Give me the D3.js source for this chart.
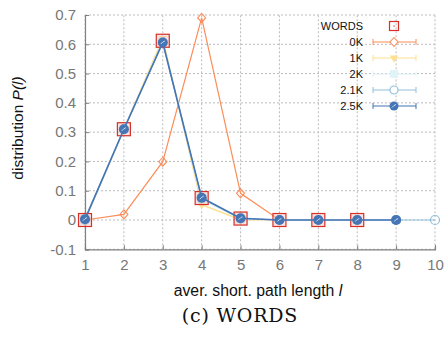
<!DOCTYPE html>
<html><head><meta charset="utf-8">
<script src="https://cdn.jsdelivr.net/npm/d3@7"></script>
<style>body{margin:0;background:#fff}svg{display:block}</style>
</head><body><svg id="c" width="445" height="339"></svg>
<script>
const xTicks = [1,2,3,4,5,6,7,8,9,10];
const yTicks = [-0.1,0,0.1,0.2,0.3,0.4,0.5,0.6,0.7];
const yTickLabels = ["-0.1","0","0.1","0.2","0.3","0.4","0.5","0.6","0.7"];
const seriesNames = ["WORDS","0K","1K","2K","2.1K","2.5K"];
const xWords = [1,2,3,4,5,6,7,8];
const yWords = [0,0.31,0.612,0.075,0.005,0,0,0];
const x0K = [1,2,3,4,5,6,7,8];
const y0K = [0,0.019,0.199,0.69,0.091,0,0,0];
const x1K = [1,2,3,4,5,6,7,8];
const y1K = [0,0.31,0.62,0.052,0.001,0,0,0];
const x2K = [1,2,3,4,5,6,7,8,9];
const y2K = [0,0.31,0.61,0.07,0.004,0,0,0,0];
const x21K = [1,2,3,4,5,6,7,8,9,10];
const y21K = [0,0.31,0.607,0.074,0.005,0,0,0,0,0];
const x25K = [1,2,3,4,5,6,7,8,9];
const y25K = [0.003,0.31,0.606,0.076,0.006,0,0,0,0];

const svg = d3.select("#c");
const x = d3.scaleLinear().domain([1,10]).range([85,435]);
const y = d3.scaleLinear().domain([-0.1,0.7]).range([249.3,15]);
const grey = "#808080";
const font = "'Liberation Sans', Arial, sans-serif";

// grid
const g = svg.append("g");
g.selectAll("line.gx").data(xTicks).join("line")
  .attr("x1",d=>x(d)).attr("x2",d=>x(d)).attr("y1",y(-0.1)).attr("y2",y(0.7))
  .attr("stroke","#bbb").attr("stroke-width",1).attr("stroke-dasharray","2,2");
g.selectAll("line.gy").data(yTicks).join("line")
  .attr("y1",d=>y(d)).attr("y2",d=>y(d)).attr("x1",x(1)).attr("x2",x(10))
  .attr("stroke","#bbb").attr("stroke-width",1).attr("stroke-dasharray","2,2");

// axes
const xa = svg.append("g").attr("transform",`translate(0,${y(-0.1)})`)
  .call(d3.axisBottom(x).tickValues(xTicks).tickSize(-4).tickPadding(10).tickFormat(d3.format("d")));
const ya = svg.append("g").attr("transform",`translate(${x(1)},0)`)
  .call(d3.axisLeft(y).tickValues(yTicks).tickSize(-4).tickPadding(9).tickFormat((d,i)=>yTickLabels[i]));
[xa,ya].forEach(a=>{
  a.select(".domain").attr("stroke",grey).attr("stroke-width",1.2);
  a.selectAll(".tick line").attr("stroke",grey);
  a.selectAll(".tick text").attr("fill","#777").attr("font-size",15).attr("font-family",font);
});

// series
const colors = {"0K":"#fc8d59","1K":"#fee090","2K":"#e0f3f8","2.1K":"#91bfdb","2.5K":"#4575b4"};
const line = d3.line().x(d=>x(d[0])).y(d=>y(d[1]));
function zip(a,b){return a.map((v,i)=>[v,b[i]]);}

function drawLine(data,color,w){
  svg.append("path").datum(data).attr("d",line).attr("fill","none")
    .attr("stroke",color).attr("stroke-width",w);
}
const d0 = zip(x0K,y0K), d1 = zip(x1K,y1K), d2 = zip(x2K,y2K), d21 = zip(x21K,y21K), d25 = zip(x25K,y25K), dW = zip(xWords,yWords);
const diamond = "M0,-4.5L4,0L0,4.5L-4,0Z";

drawLine(d0,colors["0K"],1.2);
svg.selectAll("path.dm0").data(d0).join("path")
  .attr("d",diamond).attr("transform",d=>`translate(${x(d[0])},${y(d[1])})`)
  .attr("fill","none").attr("stroke",colors["0K"]).attr("stroke-width",1.1);

drawLine(d1,colors["1K"],1.5);
svg.selectAll("path.m1").data(d1).join("path")
  .attr("d",d3.symbol(d3.symbolTriangle,30)()).attr("transform",d=>`translate(${x(d[0])},${y(d[1])}) rotate(180)`)
  .attr("fill",colors["1K"]);

drawLine(d2,colors["2K"],1.5);
svg.selectAll("rect.m2").data(d2).join("rect")
  .attr("x",d=>x(d[0])-4).attr("y",d=>y(d[1])-4).attr("width",8).attr("height",8)
  .attr("fill",colors["2K"]);

drawLine(d21,colors["2.1K"],1.2);
svg.selectAll("circle.m21").data(d21).join("circle")
  .attr("cx",d=>x(d[0])).attr("cy",d=>y(d[1])).attr("r",4.5)
  .attr("fill","none").attr("stroke",colors["2.1K"]).attr("stroke-width",1.2);

// WORDS squares
svg.selectAll("rect.mw").data(dW).join("rect")
  .attr("x",d=>x(d[0])-6.5).attr("y",d=>y(d[1])-6.5).attr("width",13).attr("height",13)
  .attr("fill","#f4c6c0").attr("fill-opacity",0.5).attr("stroke","#d73027").attr("stroke-width",1.2);

drawLine(d25,colors["2.5K"],1.6);
svg.selectAll("circle.m25").data(d25).join("circle")
  .attr("cx",d=>x(d[0])).attr("cy",d=>y(d[1])).attr("r",5)
  .attr("fill",colors["2.5K"]);
svg.selectAll("path.m25s").data(d25).join("path")
  .attr("d",d=>`M${x(d[0])-2},${y(d[1])+1.5} Q${x(d[0])},${y(d[1])-1} ${x(d[0])+2},${y(d[1])-1.5}`)
  .attr("fill","none").attr("stroke","#cfdff0").attr("stroke-width",1);

// legend
const leg = svg.append("g");
const ly0 = 26, ldy = 16, lx1 = 373, lx2 = 416, lmx = 394;
seriesNames.forEach((name,i)=>{
  const yy = ly0 + i*ldy;
  leg.append("text").attr("x",363).attr("y",yy).attr("dy","0.35em").attr("text-anchor","end")
    .attr("font-size",11).attr("font-family",font).attr("fill","#111").text(name);
  if(name==="WORDS"){
    leg.append("rect").attr("x",lmx-4.5).attr("y",yy-4.5).attr("width",9).attr("height",9)
      .attr("fill","none").attr("stroke","#d73027").attr("stroke-width",1.2);
    leg.append("rect").attr("x",lmx-0.5).attr("y",yy-0.5).attr("width",1.2).attr("height",1.2).attr("fill","#d73027");
    return;
  }
  const c = colors[name];
  leg.append("line").attr("x1",lx1).attr("x2",lx2).attr("y1",yy).attr("y2",yy).attr("stroke",c).attr("stroke-width",1.2);
  leg.append("line").attr("x1",lx1).attr("x2",lx1).attr("y1",yy-3).attr("y2",yy+3).attr("stroke",c);
  leg.append("line").attr("x1",lx2).attr("x2",lx2).attr("y1",yy-3).attr("y2",yy+3).attr("stroke",c);
  if(name==="0K") leg.append("path").attr("d",diamond).attr("transform",`translate(${lmx},${yy})`).attr("fill","#fff").attr("stroke",c).attr("stroke-width",1.1);
  if(name==="1K") leg.append("path").attr("d",d3.symbol(d3.symbolTriangle,30)()).attr("transform",`translate(${lmx},${yy}) rotate(180)`).attr("fill",c);
  if(name==="2K") leg.append("rect").attr("x",lmx-4).attr("y",yy-4).attr("width",8).attr("height",8).attr("fill",c);
  if(name==="2.1K") leg.append("circle").attr("cx",lmx).attr("cy",yy).attr("r",4).attr("fill","#fff").attr("stroke",c).attr("stroke-width",1.2);
  if(name==="2.5K"){ leg.append("circle").attr("cx",lmx).attr("cy",yy).attr("r",4.5).attr("fill",c);
    leg.append("path").attr("d",`M${lmx-2},${yy+1.5} Q${lmx},${yy-1} ${lmx+2},${yy-1.5}`).attr("fill","none").attr("stroke","#cfdff0").attr("stroke-width",1);}
});

// axis labels
svg.append("text").attr("x",258).attr("y",296).attr("text-anchor","middle")
  .attr("font-size",15.8).attr("font-family",font).attr("fill","#111")
  .html('aver. short. path length <tspan font-style="italic">l</tspan>');
svg.append("text").attr("transform","translate(23,128) rotate(-90)").attr("text-anchor","middle")
  .attr("font-size",15.5).attr("font-family",font).attr("fill","#111")
  .html('distribution <tspan font-style="italic">P(l)</tspan>');
svg.append("text").attr("x",240).attr("y",322).attr("text-anchor","middle")
  .attr("font-size",19).attr("letter-spacing",0.8).attr("font-family","'DejaVu Serif', 'Liberation Serif', serif").attr("fill","#111")
  .text("(c) WORDS");
</script></body></html>
